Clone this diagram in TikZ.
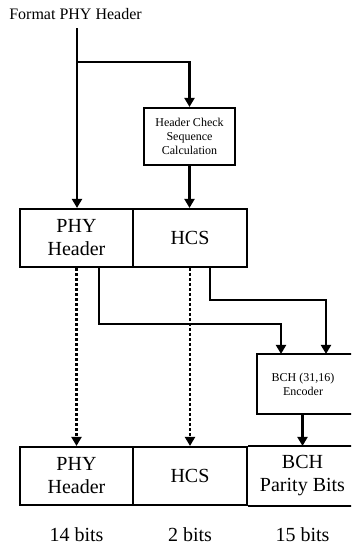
\documentclass[tikz,border=0pt]{standalone}
\usepackage{fontspec}
\setmainfont{Liberation Serif}
\usetikzlibrary{arrows.meta,calc}
\begin{document}
\begin{tikzpicture}[x=1pt,y=-1pt,
  box/.style={draw,line width=2.1pt,inner sep=0pt,align=center,font=\fontsize{20}{23}\selectfont},
  sbox/.style={draw,line width=2.1pt,inner sep=0pt,align=center,font=\fontsize{12}{14}\selectfont},
  open/.style={line width=2.1pt,line join=miter},
  conn/.style={line width=2.1pt,-{Triangle[length=9pt,width=10pt]}},
  dconn/.style={conn,dash pattern=on 3pt off 2pt},
  lbl/.style={font=\fontsize{20}{24}\selectfont,inner sep=0pt}]
\useasboundingbox (0,0) rectangle (351,546);
\begin{scope}
\clip (0,0) rectangle (351,546);
\node[font=\fontsize{16}{19}\selectfont,inner sep=0pt] (title) at (75.5,14) {Format PHY Header};
\node[sbox,minimum width=91pt,minimum height=57pt] (hcsc) at (189.5,136.5) {Header Check\\Sequence\\Calculation};
\node[box,minimum width=113pt,minimum height=58pt] (phy1) at (76.5,238) {PHY\\Header};
\node[box,minimum width=114pt,minimum height=58pt] (hcs1) at (190,238) {HCS};
\node[sbox,draw=none,minimum width=142pt,minimum height=58pt] (bch) at (329,384) {\hspace*{-52pt}BCH (31,16)\\\hspace*{-52pt}Encoder};
\node[box,minimum width=113pt,minimum height=58pt] (phy2) at (76.5,476) {PHY\\Header};
\node[box,minimum width=114pt,minimum height=58pt] (hcs2) at (190,476) {HCS};
\node[box,draw=none,minimum width=153pt,minimum height=58pt] (par) at (323.5,476) {\hspace*{-42pt}BCH\\\hspace*{-42pt}Parity Bits};
\draw[open] (bch.north east) -- (bch.north west) -- (bch.south west) -- (bch.south east);
\draw[open] (hcs2.north east) -- (par.north east);
\draw[open] (hcs2.south east) -- (par.south east);
\node[lbl] (b1) at (76.5,535) {14 bits};
\node[lbl] (b2) at (190,535) {2 bits};
\node[lbl] (b3) at (302.5,535) {15 bits};
\coordinate (start) at (77,28);
\coordinate (br) at (77,62);
\coordinate (pin) at ([xshift=-21pt]par.north);
\draw[conn] (start) -- (start |- phy1.north);
\draw[conn] (br) -| (hcsc.north);
\draw[conn] (hcsc.south) -- (hcsc.south |- hcs1.north);
\draw[dconn] (phy1.south) -- (phy2.north);
\draw[dconn] (hcs1.south) -- (hcs2.north);
\draw[conn] ([xshift=22.5pt]phy1.south) -- ++(0,56) -| ([xshift=-48pt]bch.north);
\draw[conn] ([xshift=20pt]hcs1.south) -- ++(0,32) -| ([xshift=-3pt]bch.north);
\draw[conn] (pin |- bch.south) -- (pin);
\end{scope}
\end{tikzpicture}
\end{document}
